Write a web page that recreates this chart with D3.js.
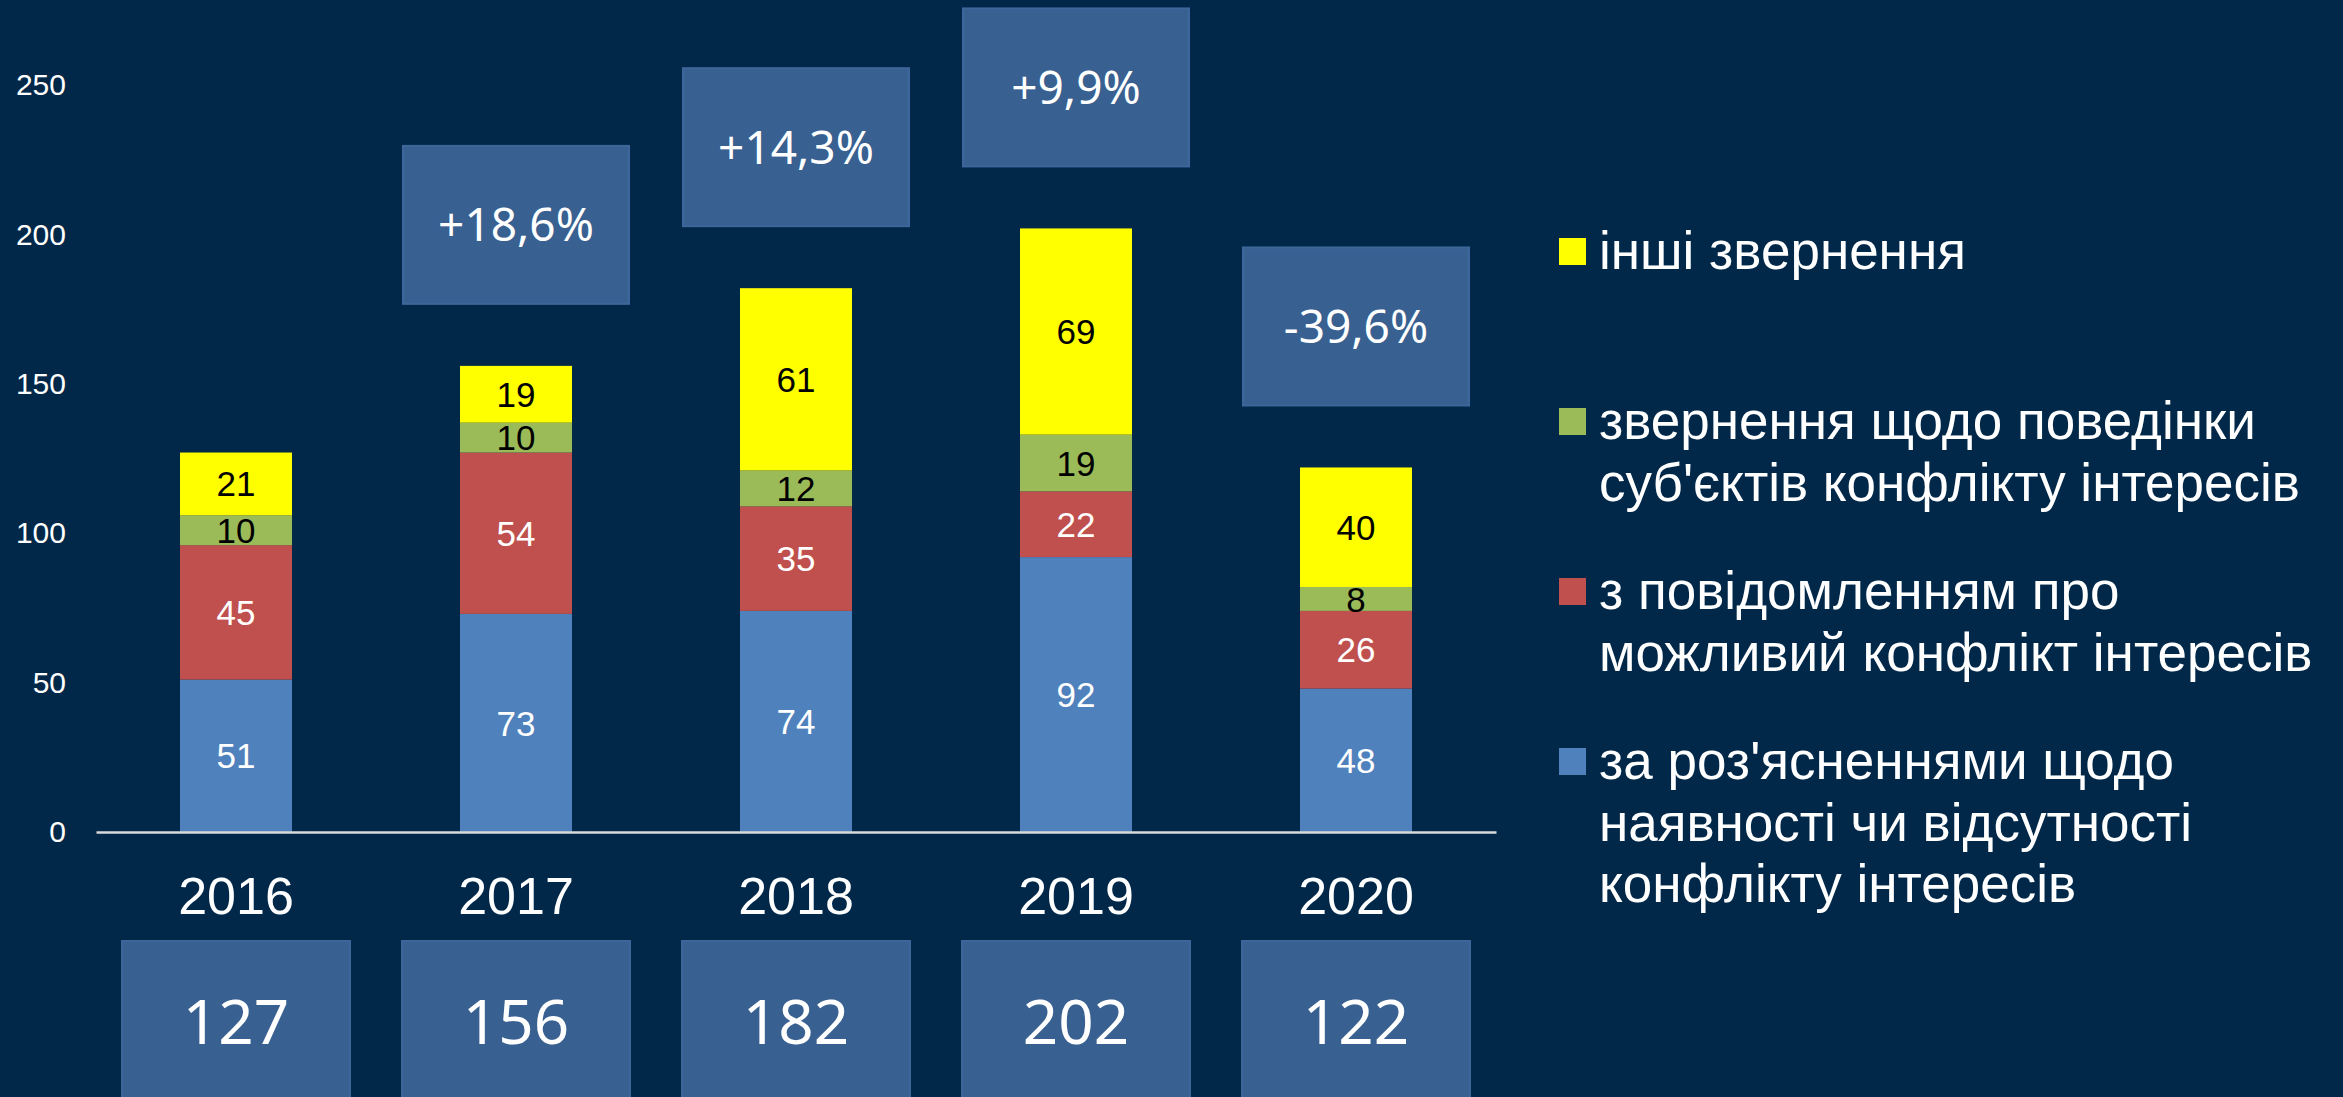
<!DOCTYPE html>
<html>
<head>
<meta charset="utf-8">
<script src="https://cdn.jsdelivr.net/npm/d3@7"></script>
<style>
  body { margin: 0; background: #012849; }
  svg { display: block; }
</style>
</head>
<body>
<div id="chart"></div>
<script>
// data
var years = ["2016", "2017", "2018", "2019", "2020"];
var explainVals = [51, 73, 74, 92, 48];     // за роз'ясненнями
var reportVals = [45, 54, 35, 22, 26];      // з повідомленням
var behaviourVals = [10, 10, 12, 19, 8];    // звернення щодо поведінки
var otherVals = [21, 19, 61, 69, 40];       // інші звернення
var totals = [127, 156, 182, 202, 122];
var changes = ["", "+18,6%", "+14,3%", "+9,9%", "-39,6%"];
var yTicks = [0, 50, 100, 150, 200, 250];

var seriesKeys = ["explain", "report", "behaviour", "other"];
var seriesColors = ["#4f81bd", "#c0504d", "#9bbb59", "#ffff00"];
var labelColors = ["#ffffff", "#ffffff", "#000000", "#000000"];
var legendLines = [
  ["інші звернення"],
  ["звернення щодо поведінки", "суб'єктів конфлікту інтересів"],
  ["з повідомленням про", "можливий конфлікт інтересів"],
  ["за роз'ясненнями щодо", "наявності чи відсутності", "конфлікту інтересів"]
];
var legendColors = ["#ffff00", "#9bbb59", "#c0504d", "#4f81bd"];

var W = 2343, H = 1097;
var boxColor = "#386091";

var svg = d3.select("#chart").append("svg")
  .attr("width", W)
  .attr("height", H);

svg.append("rect").attr("width", W).attr("height", H).attr("fill", "#012849");

var rows = years.map(function (y, i) {
  return { year: y, explain: explainVals[i], report: reportVals[i], behaviour: behaviourVals[i], other: otherVals[i] };
});

var x = d3.scaleBand()
  .domain(years)
  .range([96, 1496])
  .paddingInner(0.6)
  .paddingOuter(0.3);

var y = d3.scaleLinear()
  .domain([0, 250])
  .range([832, 85]);

// y axis labels
var yAxis = svg.append("g")
  .attr("transform", "translate(96,0)")
  .call(d3.axisLeft(y).tickValues(yTicks).tickSize(0).tickPadding(30));
yAxis.select(".domain").remove();
yAxis.selectAll("text")
  .attr("fill", "#ffffff")
  .style("font-family", "'Liberation Sans', Arial, sans-serif")
  .style("font-size", "30px");

// stacked bars
var stacked = d3.stack().keys(seriesKeys)(rows);

var layer = svg.append("g").selectAll("g")
  .data(stacked)
  .enter().append("g")
  .attr("fill", function (d, i) { return seriesColors[i]; });

layer.selectAll("rect")
  .data(function (d) { return d; })
  .enter().append("rect")
  .attr("x", function (d) { return x(d.data.year); })
  .attr("y", function (d) { return y(d[1]); })
  .attr("width", x.bandwidth())
  .attr("height", function (d) { return y(d[0]) - y(d[1]); });

// segment labels
stacked.forEach(function (s, si) {
  svg.append("g").selectAll("text")
    .data(s)
    .enter().append("text")
    .attr("x", function (d) { return x(d.data.year) + x.bandwidth() / 2; })
    .attr("y", function (d) { return (y(d[0]) + y(d[1])) / 2; })
    .attr("dy", "0.36em")
    .attr("text-anchor", "middle")
    .attr("fill", labelColors[si])
    .style("font-family", "'Liberation Sans', Arial, sans-serif")
    .style("font-size", "35px")
    .text(function (d) { return d[1] - d[0]; });
});

// x axis (baseline + years)
var xAxis = svg.append("g")
  .attr("transform", "translate(0,832)")
  .call(d3.axisBottom(x).tickSize(0).tickSizeOuter(0).tickPadding(45));
xAxis.select(".domain")
  .attr("stroke", "#d9d9d9")
  .attr("stroke-width", 2.5);
xAxis.selectAll("text")
  .attr("fill", "#ffffff")
  .style("font-family", "'Liberation Sans', Arial, sans-serif")
  .style("font-size", "52px");

// change boxes above the bars
var chg = svg.append("g").selectAll("g")
  .data(years.map(function (yr, i) { return { year: yr, total: totals[i], label: changes[i] }; })
    .filter(function (d) { return d.label !== ""; }))
  .enter().append("g");

chg.append("rect")
  .attr("x", function (d) { return x(d.year) + x.bandwidth() / 2 - 113; })
  .attr("y", function (d) { return y(d.total) - 62 - 158; })
  .attr("width", 226)
  .attr("height", 158)
  .attr("fill", boxColor)
  .attr("stroke", "#3d669a")
  .attr("stroke-width", 2);

chg.append("text")
  .attr("x", function (d) { return x(d.year) + x.bandwidth() / 2; })
  .attr("y", function (d) { return y(d.total) - 62 - 79; })
  .attr("dy", "0.36em")
  .attr("text-anchor", "middle")
  .attr("fill", "#ffffff")
  .style("font-family", "'Noto Sans', sans-serif")
  .style("font-size", "46px")
  .text(function (d) { return d.label; });

// total boxes under the years
var tot = svg.append("g").selectAll("g")
  .data(years.map(function (yr, i) { return { year: yr, total: totals[i] }; }))
  .enter().append("g");

tot.append("rect")
  .attr("x", function (d) { return x(d.year) + x.bandwidth() / 2 - 114; })
  .attr("y", 941)
  .attr("width", 228)
  .attr("height", 200)
  .attr("fill", boxColor)
  .attr("stroke", "#3d669a")
  .attr("stroke-width", 2);

tot.append("text")
  .attr("x", function (d) { return x(d.year) + x.bandwidth() / 2; })
  .attr("y", 1044)
  .attr("text-anchor", "middle")
  .attr("fill", "#ffffff")
  .style("font-family", "'Noto Sans', sans-serif")
  .style("font-size", "62px")
  .text(function (d) { return d.total; });

// legend
var legend = svg.append("g").attr("transform", "translate(1559,0)");
var item = legend.selectAll("g")
  .data(legendLines)
  .enter().append("g")
  .attr("transform", function (d, i) { return "translate(0," + (269 + i * 170) + ")"; });

item.append("rect")
  .attr("x", 0)
  .attr("y", -31)
  .attr("width", 27)
  .attr("height", 27)
  .attr("fill", function (d, i) { return legendColors[i]; });

item.append("text")
  .attr("fill", "#ffffff")
  .style("font-family", "'Liberation Sans', Arial, sans-serif")
  .style("font-size", "53px")
  .selectAll("tspan")
  .data(function (d) { return d; })
  .enter().append("tspan")
  .attr("x", 40)
  .attr("y", function (d, i) { return i * 61.5; })
  .text(function (d) { return d; });
</script>
</body>
</html>
